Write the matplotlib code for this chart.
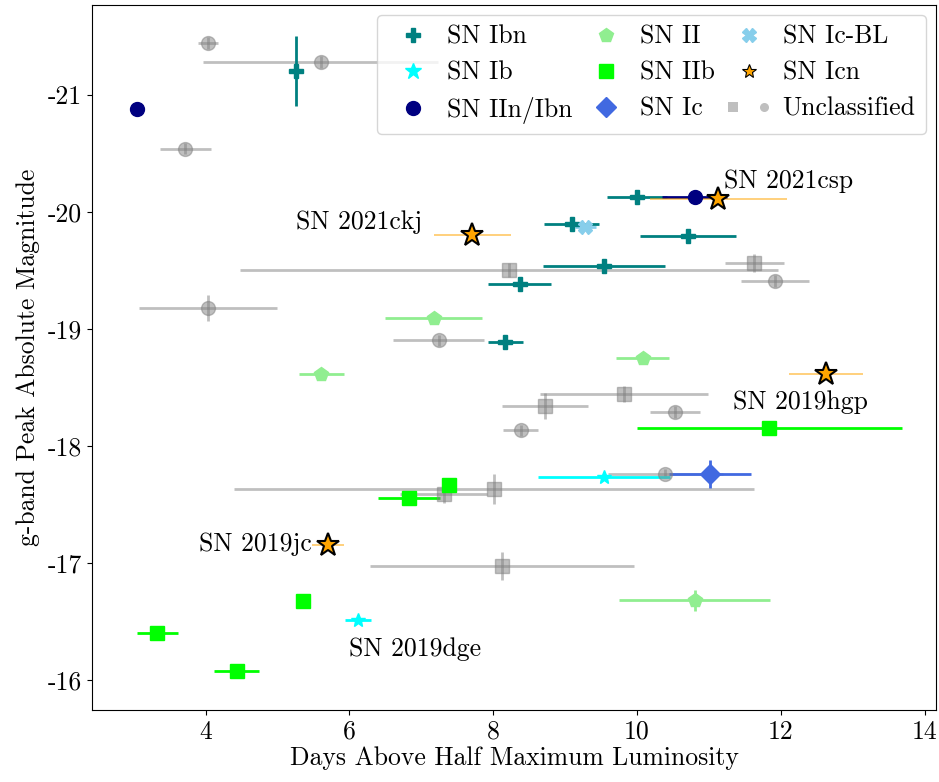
import numpy as np
import matplotlib
matplotlib.use("Agg")
import matplotlib.pyplot as plt
from matplotlib.lines import Line2D
from matplotlib.legend_handler import HandlerTuple

plt.rcParams['font.family'] = 'cmr10'
plt.rcParams['mathtext.fontset'] = 'cm'
plt.rcParams['axes.unicode_minus'] = False
plt.rcParams['axes.formatter.use_mathtext'] = False

FS = 18.5

# Data: (duration, duration err, peak mag, mag err)
ibn_x = [5.25, 10.00, 9.09, 10.71, 9.54, 8.37, 8.17]
ibn_xerr = [0.0, 0.42, 0.38, 0.665, 0.845, 0.44, 0.24]
ibn_y = [-21.20, -20.13, -19.895, -19.79, -19.54, -19.38, -18.89]
ibn_yerr = [0.30, 0.0, 0.0, 0.0, 0.0, 0.0, 0.0]

iin_x = [3.05, 10.80]
iin_xerr = [0.03, 0.45]
iin_y = [-20.88, -20.13]

icn_names = ['SN 2021csp', 'SN 2021ckj', 'SN 2019hgp', 'SN 2019jc']
icn_x = [11.13, 7.71, 12.63, 5.70]
icn_xerr = [0.95, 0.54, 0.51, 0.22]
icn_y = [-20.11, -19.80, -18.61, -17.15]

ii_x = [7.17, 10.08, 5.61, 10.80]
ii_xerr = [0.67, 0.37, 0.31, 1.05]
ii_y = [-19.09, -18.75, -18.615, -16.68]
ii_yerr = [0.05, 0.0, 0.0, 0.09]

iib_x = [11.84, 7.38, 6.83, 5.36, 3.33, 4.43]
iib_xerr = [1.84, 0.0, 0.43, 0.0, 0.28, 0.31]
iib_y = [-18.15, -17.66, -17.55, -16.675, -16.40, -16.07]

ib_x = [9.54, 6.12]
ib_xerr = [0.92, 0.175]
ib_y = [-17.73, -16.51]

ic_x = [11.01]
ic_xerr = [0.57]
ic_y = [-17.76]
ic_yerr = [0.12]

icbl_x = [9.28]
icbl_xerr = [0.15]
icbl_y = [-19.87]

unc_c_x = [4.03, 5.60, 3.72, 4.03, 7.24, 11.92, 10.53, 8.38, 10.39]
unc_c_xerr = [0.14, 1.63, 0.36, 0.96, 0.63, 0.47, 0.35, 0.245, 0.80]
unc_c_y = [-21.44, -21.28, -20.54, -19.18, -18.90, -19.41, -18.29, -18.13, -17.76]
unc_c_yerr = [0.05, 0.05, 0.05, 0.11, 0.05, 0.05, 0.05, 0.05, 0.04]

unc_s_x = [8.22, 11.63, 9.82, 8.72, 8.01, 7.31, 8.12]
unc_s_xerr = [3.74, 0.41, 1.17, 0.60, 3.61, 0.61, 1.84]
unc_s_y = [-19.50, -19.56, -18.44, -18.34, -17.63, -17.59, -16.97]
unc_s_yerr = [0.06, 0.075, 0.07, 0.11, 0.125, 0.08, 0.12]

label_pos = {
    'SN 2021csp': (11.21, -20.265, 'left'),
    'SN 2021ckj': (7.01, -19.915, 'right'),
    'SN 2019hgp': (11.34, -18.37, 'left'),
    'SN 2019jc': (5.48, -17.16, 'right'),
    'SN 2019dge': (6.0, -16.265, 'left'),
}

fig = plt.figure(figsize=(9.39, 7.82), dpi=100)
ax = fig.add_axes([0.098, 0.092, 0.899, 0.902])

ebkw = dict(ls='none', capsize=0, elinewidth=2, ms=10)

ax.errorbar(unc_s_x, unc_s_y, xerr=unc_s_xerr, yerr=unc_s_yerr, fmt='s',
            color='gray', alpha=0.5, **ebkw)
ax.errorbar(unc_c_x, unc_c_y, xerr=unc_c_xerr, yerr=unc_c_yerr, fmt='o',
            color='gray', alpha=0.5, **ebkw)
ax.errorbar(ibn_x, ibn_y, xerr=ibn_xerr, yerr=ibn_yerr, fmt='P', color='teal', **ebkw)
ax.errorbar(iin_x, iin_y, xerr=iin_xerr, fmt='o', color='navy', **ebkw)
ax.errorbar(ii_x, ii_y, xerr=ii_xerr, yerr=ii_yerr, fmt='p', color='lightgreen', **ebkw)
ax.errorbar(iib_x, iib_y, xerr=iib_xerr, fmt='s', color='lime', **ebkw)
ax.errorbar(ib_x, ib_y, xerr=ib_xerr, fmt='*', color='cyan', **ebkw)
ax.errorbar(ic_x, ic_y, xerr=ic_xerr, yerr=ic_yerr, fmt='D', color='royalblue', **ebkw)
ax.errorbar(icbl_x, icbl_y, xerr=icbl_xerr, fmt='X', color='skyblue', **ebkw)

# Icn: thin light error bars, big outlined stars
ax.errorbar(icn_x, icn_y, xerr=icn_xerr, fmt='none', ecolor='orange', alpha=0.6,
            elinewidth=1.2, capsize=0)
ax.plot(icn_x, icn_y, ls='none', marker='*', ms=17, mfc='orange', mec='black', mew=1.5, zorder=5)

for name, (tx, ty, ha) in label_pos.items():
    ax.text(tx, ty, name, ha=ha, va='center', fontsize=FS)

ax.set_xlim(2.42, 14.16)
ax.set_ylim(-15.74, -21.77)
ax.set_xticks([4, 6, 8, 10, 12, 14])
ax.set_yticks([-21, -20, -19, -18, -17, -16])
ax.tick_params(labelsize=FS)
ax.set_xlabel('Days Above Half Maximum Luminosity', fontsize=FS, labelpad=2)
ax.set_ylabel('g-band Peak Absolute Magnitude', fontsize=FS, labelpad=6)

handles = [
    Line2D([], [], ls='none', marker='P', ms=10, color='teal'),
    Line2D([], [], ls='none', marker='*', ms=12, color='cyan'),
    Line2D([], [], ls='none', marker='o', ms=10, color='navy'),
    Line2D([], [], ls='none', marker='p', ms=10, color='lightgreen'),
    Line2D([], [], ls='none', marker='s', ms=10, color='lime'),
    Line2D([], [], ls='none', marker='D', ms=10, color='royalblue'),
    Line2D([], [], ls='none', marker='X', ms=10, color='skyblue'),
    Line2D([], [], ls='none', marker='*', ms=10, mfc='orange', mec='black', mew=0.8),
    (Line2D([], [], ls='none', marker='s', ms=6.5, color='gray', alpha=0.5, mew=0),
     Line2D([], [], ls='none', marker='o', ms=6.5, color='gray', alpha=0.5, mew=0)),
]
labels = ['SN Ibn', 'SN Ib', 'SN IIn/Ibn', 'SN II', 'SN IIb', 'SN Ic',
          'SN Ic-BL', 'SN Icn', 'Unclassified']
ax.legend(handles, labels, ncol=3, loc='upper right', fontsize=FS,
          handler_map={tuple: HandlerTuple(ndivide=None, pad=0.45)},
          handlelength=2.0, handletextpad=0.33, columnspacing=0.3, labelspacing=0.475,
          borderaxespad=0.4)

fig.savefig('out.png', dpi=100)
